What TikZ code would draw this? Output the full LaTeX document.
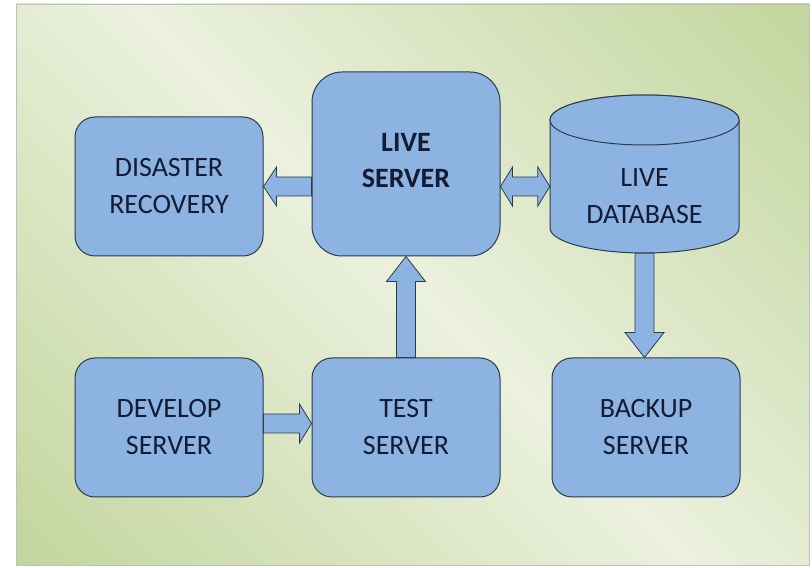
\documentclass[tikz,border=0pt]{standalone}
\usepackage{fontspec}
\setmainfont{Carlito}
\usetikzlibrary{calc}
\definecolor{bgdark}{HTML}{C2D59C}
\definecolor{bglight}{HTML}{EBF1DE}
\definecolor{boxfill}{HTML}{8DB3E2}
\definecolor{boxline}{HTML}{2E3B4A}
\definecolor{ink}{HTML}{141C33}
\pgfdeclareverticalshading{panelshade}{100bp}{color(0bp)=(bgdark); color(14bp)=(bgdark); color(50bp)=(bglight); color(86bp)=(bgdark); color(100bp)=(bgdark)}

\begin{document}
\begin{tikzpicture}[x=1pt, y=1pt,
  srv/.style={rectangle, draw=boxline, fill=boxfill, line width=1pt, rounded corners=20pt, minimum width=188pt, minimum height=139pt, align=center, text=ink, font=\fontsize{28}{37}\selectfont},
  dbshape/.style={draw=boxline, fill=boxfill, line width=1pt},
  dbtext/.style={rectangle, minimum width=189pt, minimum height=114pt, align=center, text=ink, font=\fontsize{28}{37}\selectfont},
  blk/.style={draw=boxline, fill=boxfill, line width=0.8pt, line join=miter,
    to path={let \p1=(\tikztostart), \p2=(\tikztotarget),
      \n1={atan2(\y2-\y1,\x2-\x1)}, \n2={veclen(\x2-\x1,\y2-\y1)} in
      ($(\p1)+(\n1+90:9.5)$) -- ($(\p1)+(\n1:\n2-#1)+(\n1+90:9.5)$)
      -- ($(\p1)+(\n1:\n2-#1)+(\n1+90:19.5)$) -- (\p2)
      -- ($(\p1)+(\n1:\n2-#1)+(\n1-90:19.5)$) -- ($(\p1)+(\n1:\n2-#1)+(\n1-90:9.5)$)
      -- ($(\p1)+(\n1-90:9.5)$) -- cycle}},
  blk/.default=25,
  dblk/.style={draw=boxline, fill=boxfill, line width=0.8pt, line join=miter,
    to path={let \p1=(\tikztostart), \p2=(\tikztotarget),
      \n1={atan2(\y2-\y1,\x2-\x1)}, \n2={veclen(\x2-\x1,\y2-\y1)} in
      (\p1) -- ($(\p1)+(\n1:#1)+(\n1+90:19.5)$) -- ($(\p1)+(\n1:#1)+(\n1+90:9.5)$)
      -- ($(\p1)+(\n1:\n2-#1)+(\n1+90:9.5)$) -- ($(\p1)+(\n1:\n2-#1)+(\n1+90:19.5)$)
      -- (\p2)
      -- ($(\p1)+(\n1:\n2-#1)+(\n1-90:19.5)$) -- ($(\p1)+(\n1:\n2-#1)+(\n1-90:9.5)$)
      -- ($(\p1)+(\n1:#1)+(\n1-90:9.5)$) -- ($(\p1)+(\n1:#1)+(\n1-90:19.5)$) -- cycle}},
  dblk/.default=12,
]
\useasboundingbox (0,0) rectangle (812,568);

% Background
\fill[white] (0,0) rectangle (812,568);
\shade[shading=panelshade, shading angle=-45] (16,3) rectangle (809,564);
\draw[black!25, line width=0.8pt] (16,3) rectangle (809,564);

% Servers
\node[srv] (dr) at (169,381.5) {DISASTER\\RECOVERY};
\node[srv, rounded corners=30pt, minimum height=184pt, text depth=8pt, font=\fontsize{28}{36}\selectfont\bfseries] (live) at (406,404) {LIVE\\SERVER};
\node[srv] (dev) at (169,140.5) {DEVELOP\\SERVER};
\node[srv] (test) at (406,140.5) {TEST\\SERVER};
\node[srv] (backup) at (646,140.5) {BACKUP\\SERVER};

% Database
\coordinate (dbc) at (644.5,372);
\draw[dbshape] ($(dbc)+(-94.5,76)$) -- ($(dbc)+(-94.5,-32)$)
  arc[start angle=180, end angle=360, x radius=94.5, y radius=25]
  -- ($(dbc)+(94.5,76)$)
  arc[start angle=0, end angle=180, x radius=94.5, y radius=25] -- cycle;
\draw[dbshape] ($(dbc)+(0,76)$) ellipse[x radius=94.5, y radius=25];
\node[dbtext] (db) at (dbc) {LIVE\\DATABASE};

% Arrows
\draw[blk=13] (live.west |- dr.east) to (dr.east);
\draw[dblk] (live.east |- dr.east) to (db.west |- dr.east);
\draw[blk] (test.north) to (live.south);
\draw[blk=12] ([yshift=4pt]dev.east) to ([yshift=4pt]test.west);
\draw[blk] (db.south) to (db.south |- backup.north);

\end{tikzpicture}
\end{document}
